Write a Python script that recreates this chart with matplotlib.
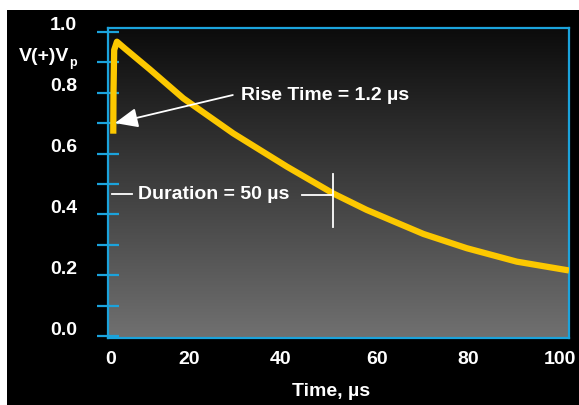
import numpy as np
import matplotlib
matplotlib.use("Agg")
import matplotlib.pyplot as plt
import matplotlib.transforms as mtransforms
from matplotlib.patches import Rectangle

# ---- datos ----
tiempo = [0.5, 0.55, 0.7, 1.3, 3.0, 8.5, 15.8, 26.7, 38.4, 48.5, 55.8, 68.2, 77.7, 88.6, 100.0]
voltaje = [0.665, 0.80, 0.94, 0.967, 0.945, 0.876, 0.781, 0.666, 0.557, 0.469, 0.415,
           0.336, 0.289, 0.245, 0.216]

x_ticks = [0, 20, 40, 60, 80, 100]
x_labels = ["0", "20", "40", "60", "80", "100"]
y_ticks = [0.0, 0.1, 0.2, 0.3, 0.4, 0.5, 0.6, 0.7, 0.8, 0.9, 1.0]
y_labels = ["0.0", "", "0.2", "", "0.4", "", "0.6", "", "0.8", "", "1.0"]

# anotaciones
rise_tip = (0.87, 0.70)
rise_tail = (26.6, 0.792)
rise_texto = "Rise Time = 1.2 µs"
dur_t = 48.5
dur_v = 0.463
dur_texto = "Duration = 50 µs"

AZUL = "#1ba3dc"
AMARILLO = "#fcc800"
FUENTE = dict(family="Liberation Sans", fontweight="bold", color="white", fontsize=14)

W, H = 579, 405
fig = plt.figure(figsize=(W / 100, H / 100), dpi=100)
fig.patch.set_facecolor("white")
fig.patches.append(Rectangle((7 / W, 0), 1, (H - 9.5) / H, transform=fig.transFigure,
                             facecolor="black", edgecolor="none", zorder=-10))

ax = fig.add_axes([107.5 / W, (H - 337.5) / H, (569 - 107.5) / W, (337.5 - 28) / H])
ax.set_xlim(-0.76, 100)
ax.set_ylim(-0.004, 1.012)

# fondo degradado negro -> gris
grad = np.linspace(0, 1, 256).reshape(-1, 1)
ax.imshow(grad, extent=[0, 1, 0, 1], transform=ax.transAxes, aspect="auto",
          cmap=matplotlib.colors.LinearSegmentedColormap.from_list("g", ["#0b0b0b", "#707070"]),
          origin="upper", zorder=0)

ax.plot(tiempo, voltaje, color=AMARILLO, linewidth=4.5, solid_capstyle="butt",
        solid_joinstyle="round", zorder=3)

# flecha del tiempo de subida
ax.annotate("", xy=rise_tip, xytext=rise_tail,
            arrowprops=dict(arrowstyle="-|>,head_length=1.4,head_width=0.6",
                            color="white", lw=1.3, shrinkA=0, shrinkB=0), zorder=4)
ax.text(rise_tail[0] + 1.7, rise_tail[1], rise_texto, va="center", ha="left", **FUENTE)

# marcador de duracion
ax.plot([0.2, 4.6], [dur_v + 0.004, dur_v + 0.004], color="white", lw=1.3, zorder=4)
ax.plot([41.7, dur_t], [dur_v, dur_v], color="white", lw=1.3, zorder=4)
ax.plot([dur_t, dur_t], [0.36, 0.533], color="white", lw=1.3, zorder=4)
ax.text(5.9, dur_v + 0.004, dur_texto, va="center", ha="left", **FUENTE)

# ejes
for lado in ["left", "right", "top", "bottom"]:
    ax.spines[lado].set_color(AZUL)
    ax.spines[lado].set_linewidth(1.6)
ax.set_yticks(y_ticks)
ax.set_yticklabels([])
ax.set_xticks(x_ticks)
ax.set_xticklabels([])
ax.tick_params(axis="y", direction="inout", length=16, width=1.6, color=AZUL)
ax.tick_params(axis="x", length=0)

# etiquetas de ticks (desplazadas como en la original)
px = lambda dx, dy: mtransforms.ScaledTranslation(dx / 100, dy / 100, fig.dpi_scale_trans)
ytrans = mtransforms.blended_transform_factory(ax.transAxes, ax.transData)
for v, lab in zip(y_ticks, y_labels):
    if lab:
        ax.text(0, v, lab, ha="right", va="center",
                transform=ytrans + px(-30.5, 6), **FUENTE)
ax.text(0, 0.9, "V(+)V", ha="right", va="center", transform=ytrans + px(-38, 6), **FUENTE)
ax.text(0, 0.9, "p", ha="right", va="center", transform=ytrans + px(-31, -1),
        **dict(FUENTE, fontsize=9))

xtrans = mtransforms.blended_transform_factory(ax.transData, ax.transAxes)
x_offsets = [0, -13, -14, -9, -9, -9]
for t, lab, dx in zip(x_ticks, x_labels, x_offsets):
    ax.text(t, 0, lab, ha="center", va="center", transform=xtrans + px(dx, -22.5), **FUENTE)

fig.text(331 / W, (H - 391) / H, "Time, µs", ha="center", va="center", **FUENTE)

plt.savefig("out.png", dpi=100, facecolor=fig.get_facecolor())
